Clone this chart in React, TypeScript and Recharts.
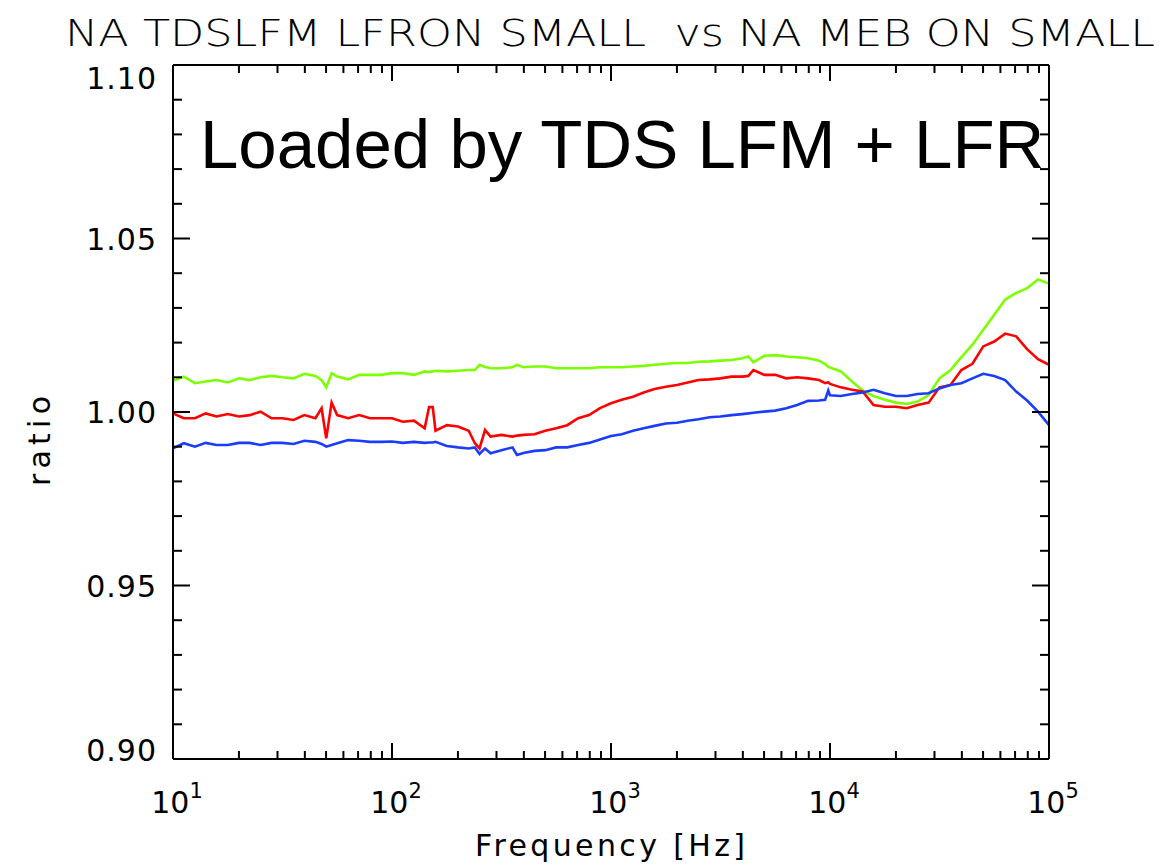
import React from "react";
import { LineChart, Line, XAxis, YAxis } from "recharts";

// frequency grid [Hz]
const freq = [
  10, 11.2, 12.6, 14.1, 15.8, 17.8, 20, 22.4, 25.1, 28.2, 31.6, 35.5, 39.8, 44.7, 47.7, 50.1, 53, 56.2, 63.1, 70.8, 79.4, 89.1, 100,
  112, 126, 141, 147.6, 153.5, 158, 178, 200, 224, 239, 251, 266, 282, 316, 355, 372, 398, 447, 501, 562, 631, 708, 794, 891, 1000,
  1120, 1260, 1410, 1580, 1780, 2000, 2240, 2510, 2820, 3160, 3550, 3980, 4240, 4470, 5010, 5620, 6310, 7080, 7940, 8910, 9500, 9820, 10000,
  11200, 12600, 14100, 15800, 17800, 20000, 22400, 25100, 28200, 31600, 35500, 39800, 44700, 50100, 56200, 63100, 70800, 79400, 89100, 100000,
];

const greenRatio = [
  1.009, 1.0102, 1.0083, 1.0088, 1.0092, 1.0085, 1.0097, 1.0092, 1.01, 1.0104, 1.01, 1.0097, 1.011, 1.0104, 1.0092, 1.0071, 1.0112, 1.0102, 1.0094, 1.0107, 1.0107, 1.0107, 1.0112,
  1.0112, 1.0107, 1.0117, 1.0115, 1.0117, 1.0119, 1.0117, 1.0119, 1.0121, 1.0121, 1.0136, 1.013, 1.0126, 1.0126, 1.0129, 1.0136, 1.0129, 1.0131, 1.0131, 1.0126, 1.0126, 1.0126, 1.0126, 1.0129, 1.0129,
  1.0129, 1.0131, 1.0133, 1.0136, 1.0139, 1.0141, 1.0141, 1.0145, 1.0146, 1.0148, 1.015, 1.0155, 1.016, 1.0143, 1.0162, 1.0164, 1.016, 1.0158, 1.0155, 1.0148, 1.0138, 1.013, 1.0128,
  1.0117, 1.0088, 1.0062, 1.0046, 1.0035, 1.0027, 1.0023, 1.003, 1.0049, 1.0097, 1.0121, 1.0158, 1.0194, 1.0237, 1.028, 1.0324, 1.0343, 1.0357, 1.0382, 1.037,
];

const redRatio = [
  0.9996, 0.9982, 0.9982, 0.9996, 0.9987, 0.9994, 0.9987, 0.9991, 1.0001, 0.9982, 0.9982, 0.9977, 0.9991, 0.9982, 1.0011, 0.9924, 1.0027, 0.9991, 0.9982, 0.9991, 0.9982, 0.9982, 0.9982,
  0.9972, 0.9975, 0.9953, 1.0014, 1.0014, 0.9946, 0.9962, 0.9958, 0.9946, 0.991, 0.9895, 0.9948, 0.9929, 0.9934, 0.9929, 0.9932, 0.9934, 0.9936, 0.9946, 0.9953, 0.9962, 0.9982, 0.9991, 1.0011, 1.0025,
  1.0035, 1.0044, 1.0056, 1.0066, 1.0073, 1.0078, 1.0085, 1.0092, 1.0094, 1.0097, 1.0102, 1.0102, 1.0104, 1.0121, 1.0107, 1.0107, 1.0097, 1.01, 1.0097, 1.0092, 1.0083, 1.0086, 1.0081,
  1.0071, 1.0064, 1.0059, 1.002, 1.0015, 1.0015, 1.0011, 1.002, 1.0027, 1.0071, 1.0078, 1.0121, 1.0139, 1.0189, 1.0203, 1.0226, 1.0218, 1.0181, 1.0152, 1.0136,
];

const blueRatio = [
  0.9895, 0.991, 0.99, 0.9911, 0.9905, 0.9905, 0.9911, 0.9911, 0.9905, 0.9911, 0.9911, 0.9908, 0.9917, 0.9914, 0.9908, 0.99, 0.9905, 0.991, 0.9919, 0.9917, 0.9914, 0.9914, 0.9915,
  0.9911, 0.9914, 0.9911, 0.9912, 0.9912, 0.9914, 0.9902, 0.9898, 0.9895, 0.9898, 0.9879, 0.9895, 0.9881, 0.989, 0.9898, 0.9876, 0.9882, 0.9888, 0.989, 0.9898, 0.9898, 0.9905, 0.9911, 0.9921, 0.9931,
  0.9936, 0.9946, 0.9953, 0.996, 0.9967, 0.9969, 0.9975, 0.9979, 0.9985, 0.9987, 0.9991, 0.9994, 0.9996, 0.9998, 1.0001, 1.0004, 1.0011, 1.002, 1.0032, 1.0033, 1.0035, 1.0062, 1.0048,
  1.0046, 1.0052, 1.0056, 1.0064, 1.0054, 1.0046, 1.0046, 1.0052, 1.0054, 1.0068, 1.0078, 1.0083, 1.0097, 1.011, 1.0104, 1.0092, 1.0059, 1.0033, 1.0001, 0.9962,
];

const xTicks = [
  10, 20, 30, 40, 50, 60, 70, 80, 90,
  100, 200, 300, 400, 500, 600, 700, 800, 900,
  1000, 2000, 3000, 4000, 5000, 6000, 7000, 8000, 9000,
  10000, 20000, 30000, 40000, 50000, 60000, 70000, 80000, 90000,
  100000,
];

const yTicks = [
  0.9, 0.91, 0.92, 0.93, 0.94, 0.95, 0.96, 0.97, 0.98, 0.99, 1.0,
  1.01, 1.02, 1.03, 1.04, 1.05, 1.06, 1.07, 1.08, 1.09, 1.1,
];

const rows = freq.map((f, i) => ({
  f,
  green: greenRatio[i],
  red: redRatio[i],
  blue: blueRatio[i],
}));

const FONT = "'DejaVu Sans', sans-serif";
const AX = "#000";

const isDecade = (v: number) => Math.abs(Math.log10(v) - Math.round(Math.log10(v))) < 1e-9;
const isMajorY = (v: number) => Math.abs(v * 20 - Math.round(v * 20)) < 1e-6;

function LeftTick(props: any) {
  const { x, y, payload } = props;
  const v = payload.value;
  const major = isMajorY(v);
  // end labels are pulled inside the frame
  let dy = 11;
  if (Math.abs(v - 1.1) < 1e-6) dy = 24;
  if (Math.abs(v - 0.9) < 1e-6) dy = 2;
  return (
    <g>
      <line x1={x} y1={y} x2={x + (major ? 17 : 9)} y2={y} stroke={AX} strokeWidth={2} />
      {major && (
        <text x={x - 16} y={y + dy} textAnchor="end" fontFamily={FONT} fontSize={30} letterSpacing={1} fill="#000">
          {v.toFixed(2)}
        </text>
      )}
    </g>
  );
}

function RightTick(props: any) {
  const { x, y, payload } = props;
  const major = isMajorY(payload.value);
  return <line x1={x} y1={y} x2={x - (major ? 17 : 9)} y2={y} stroke={AX} strokeWidth={2} />;
}

function BottomTick(props: any) {
  const { x, y, payload } = props;
  const v = payload.value;
  const major = isDecade(v);
  return (
    <g>
      <line x1={x} y1={y} x2={x} y2={y - (major ? 16 : 8)} stroke={AX} strokeWidth={2} />
      {major && (
        <text x={x + 4} y={y + 54} textAnchor="middle" fontFamily={FONT} fontSize={30} fill="#000">
          10
          <tspan fontSize={21} dy={-15}>
            {Math.round(Math.log10(v))}
          </tspan>
        </text>
      )}
    </g>
  );
}

function TopTick(props: any) {
  const { x, y, payload } = props;
  const major = isDecade(payload.value);
  return <line x1={x} y1={y} x2={x} y2={y + (major ? 16 : 8)} stroke={AX} strokeWidth={2} />;
}

export default function App() {
  return (
    <div style={{ position: "absolute", left: 0, top: 0, width: 1162, height: 867, background: "#fff" }}>
      <LineChart
        width={1162}
        height={867}
        data={rows}
        margin={{ top: 64, right: 112, bottom: 48, left: 53 }}
      >
        <XAxis
          dataKey="f"
          type="number"
          scale="log"
          domain={[10, 100000]}
          allowDataOverflow
          ticks={xTicks}
          interval={0}
          height={60}
          tickSize={0}
          tickMargin={0}
          axisLine={{ stroke: AX, strokeWidth: 2 }}
          tickLine={false}
          tick={<BottomTick />}
        />
        <XAxis
          xAxisId="top"
          orientation="top"
          dataKey="f"
          type="number"
          scale="log"
          domain={[10, 100000]}
          allowDataOverflow
          ticks={xTicks}
          interval={0}
          height={1}
          tickSize={0}
          tickMargin={0}
          axisLine={{ stroke: AX, strokeWidth: 2 }}
          tickLine={false}
          tick={<TopTick />}
        />
        <YAxis
          type="number"
          domain={[0.9, 1.1]}
          allowDataOverflow
          ticks={yTicks}
          interval={0}
          width={120}
          tickSize={0}
          tickMargin={0}
          axisLine={{ stroke: AX, strokeWidth: 2 }}
          tickLine={false}
          tick={<LeftTick />}
        />
        <YAxis
          yAxisId="right"
          orientation="right"
          type="number"
          domain={[0.9, 1.1]}
          allowDataOverflow
          ticks={yTicks}
          interval={0}
          width={1}
          tickSize={0}
          tickMargin={0}
          axisLine={{ stroke: AX, strokeWidth: 2 }}
          tickLine={false}
          tick={<RightTick />}
        />
        <Line type="linear" dataKey="green" stroke="#7cff00" strokeWidth={2.6} dot={false} isAnimationActive={false} />
        <Line type="linear" dataKey="red" stroke="#ff0000" strokeWidth={2.6} dot={false} isAnimationActive={false} />
        <Line type="linear" dataKey="blue" stroke="#1a3cff" strokeWidth={2.6} dot={false} isAnimationActive={false} />
        {/* invisible series that ties the mirrored top/right axes into the layout */}
        <Line
          type="linear"
          dataKey="green"
          xAxisId="top"
          yAxisId="right"
          stroke="none"
          dot={false}
          legendType="none"
          isAnimationActive={false}
        />
      </LineChart>

      <svg
        width={1162}
        height={867}
        style={{ position: "absolute", left: 0, top: 0, pointerEvents: "none" }}
      >
        <text
          x={65}
          y={46}
          fontFamily={FONT}
          fontWeight={200}
          fontSize={38}
          textLength={1090}
          lengthAdjust="spacingAndGlyphs"
          style={{ whiteSpace: "pre" }}
          fill="#000"
        >
          NA TDSLFM LFRON SMALL  vs NA MEB ON SMALL
        </text>
        <text
          x={200}
          y={168}
          fontFamily="'Liberation Sans', Arial, sans-serif"
          fontSize={69}
          fill="#000"
        >
          Loaded by TDS LFM + LFR
        </text>
        <text
          x={475}
          y={856}
          fontFamily={FONT}
          fontSize={30}
          textLength={270}
          lengthAdjust="spacing"
          fill="#000"
        >
          Frequency [Hz]
        </text>
        <text
          x={50}
          y={486}
          transform="rotate(-90 50 486)"
          fontFamily={FONT}
          fontSize={30}
          textLength={90}
          lengthAdjust="spacing"
          fill="#000"
        >
          ratio
        </text>
      </svg>
    </div>
  );
}
